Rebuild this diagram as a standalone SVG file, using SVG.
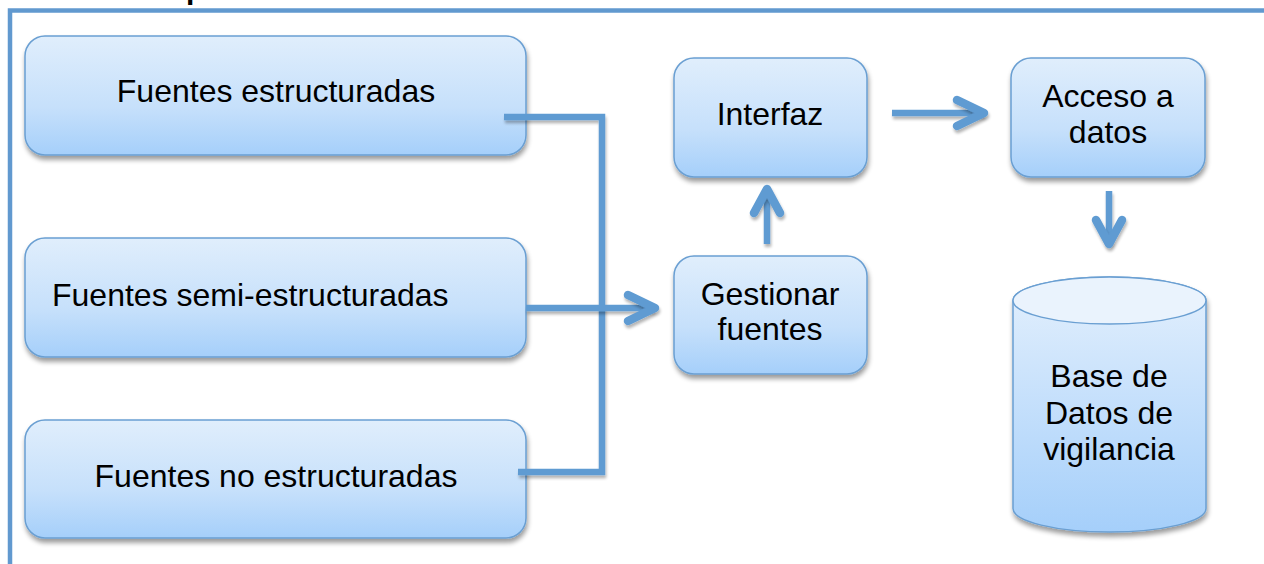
<svg xmlns="http://www.w3.org/2000/svg" width="1264" height="564" viewBox="0 0 1264 564">
<style>
.box{fill:url(#g);stroke:#6A9FD2;stroke-width:1.5;filter:url(#sh)}
.t{font-family:"Liberation Sans",Arial,sans-serif;font-size:32px;fill:#000;text-anchor:middle}
.c{fill:none;stroke:#5F9BD2;stroke-width:6.5;filter:url(#sh2)}
.ar{fill:none;stroke:#5F9BD2;stroke-width:8.5;stroke-linecap:round;stroke-linejoin:round;filter:url(#sh2)}
</style>
<defs>
<linearGradient id="g" x1="0" y1="0" x2="0" y2="1">
<stop offset="0" stop-color="#E0EEFC"/>
<stop offset="0.6" stop-color="#C6E0FB"/>
<stop offset="1" stop-color="#A5CFFA"/>
</linearGradient>
<linearGradient id="gc" x1="0" y1="0" x2="0" y2="1">
<stop offset="0" stop-color="#E4F0FD"/>
<stop offset="1" stop-color="#A5CFFA"/>
</linearGradient>
<filter id="sh" x="-10%" y="-10%" width="125%" height="130%">
<feGaussianBlur in="SourceAlpha" stdDeviation="2.5"/>
<feOffset dx="1" dy="4" result="b"/>
<feComponentTransfer><feFuncA type="linear" slope="0.4"/></feComponentTransfer>
<feMerge><feMergeNode/><feMergeNode in="SourceGraphic"/></feMerge>
</filter>
<filter id="sh2" filterUnits="userSpaceOnUse" x="0" y="0" width="1264" height="564">
<feGaussianBlur in="SourceAlpha" stdDeviation="1.5"/>
<feOffset dx="1" dy="3"/>
<feComponentTransfer><feFuncA type="linear" slope="0.3"/></feComponentTransfer>
<feMerge><feMergeNode/><feMergeNode in="SourceGraphic"/></feMerge>
</filter>
</defs>
<rect width="1264" height="564" fill="#fff"/>
<rect x="10" y="10.5" width="1300" height="600" fill="none" stroke="#6199CF" stroke-width="4.5"/>
<text x="186" y="-1.5" font-family="Liberation Sans,Arial,sans-serif" font-weight="bold" font-size="30" fill="#000">p</text>

<g id="n1"><rect class="box" x="25" y="36" width="501" height="119" rx="20"/><text class="t" x="276" y="102">Fuentes estructuradas</text></g>
<g id="n2"><rect class="box" x="25" y="238" width="501" height="119" rx="20"/><text class="t" x="52" y="306" style="text-anchor:start">Fuentes semi-estructuradas</text></g>
<g id="n3"><rect class="box" x="25" y="420" width="501" height="118" rx="20"/><text class="t" x="276" y="487">Fuentes no estructuradas</text></g>
<g id="n4"><rect class="box" x="674" y="58" width="193" height="119" rx="20"/><text class="t" x="770" y="125">Interfaz</text></g>
<g id="n5"><rect class="box" x="674" y="256" width="193" height="118" rx="20"/><text class="t" x="770" y="305">Gestionar</text><text class="t" x="770" y="340">fuentes</text></g>
<g id="n6"><rect class="box" x="1011" y="58" width="194" height="119" rx="20"/><text class="t" x="1108" y="107">Acceso a</text><text class="t" x="1108" y="143">datos</text></g>
<g id="n7">
<path d="M1013,300.5 A96.5,23.5 0 0 1 1206,300.5 L1206,508.5 A96.5,23.5 0 0 1 1013,508.5 Z" fill="url(#gc)" stroke="#6A9FD2" stroke-width="1.5" filter="url(#sh)"/>
<ellipse cx="1109.5" cy="300.5" rx="96.5" ry="23.5" fill="#EAF3FD" stroke="#6A9FD2" stroke-width="1.5"/>
<text class="t" x="1109" y="387">Base de</text>
<text class="t" x="1109" y="424">Datos de</text>
<text class="t" x="1109" y="460">vigilancia</text>
</g>

<g id="connectors">
<polyline class="c" points="504,117 602,117 602,472 518,472"/>
<line class="c" x1="526" y1="308" x2="654" y2="308"/>
<polyline class="ar" points="628,295 655,308 628,321"/>
<line class="c" x1="767" y1="244" x2="767" y2="190"/>
<polyline class="ar" points="754,213 767,189 780,213"/>
<line class="c" x1="892" y1="113" x2="984" y2="113"/>
<polyline class="ar" points="957,100 984,113 957,126"/>
<line class="c" x1="1109" y1="191" x2="1109" y2="244"/>
<polyline class="ar" points="1096,220 1109,244 1122,220"/>
</g>
</svg>
